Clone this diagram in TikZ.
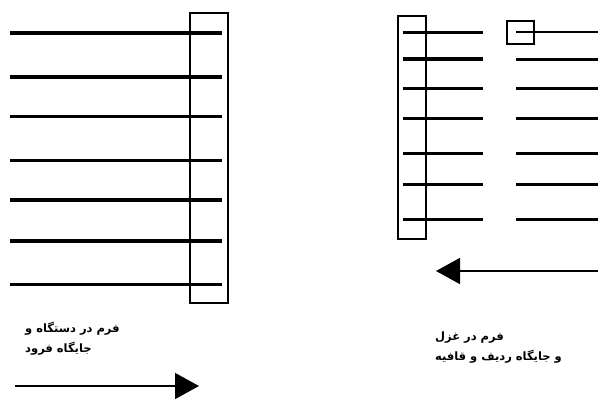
\documentclass[tikz,border=0pt]{standalone}
\usepackage{fontspec}
\newfontfamily\arabicfont[Script=Arabic]{DejaVu Sans}
\TeXXeTstate=1
\usetikzlibrary{arrows.meta}
\tikzset{
  bar/.style={line width=3pt},
  thickbar/.style={line width=4pt},
  thinbar/.style={line width=2pt},
  frame/.style={draw, line width=1.6pt},
  flow/.style={line width=1.5pt, -{Triangle[length=24pt,width=26pt]}},
  caption/.style={font=\arabicfont\bfseries\fontsize{11.5}{20}\selectfont, align=left, inner sep=0pt, anchor=north west}
}
\begin{document}
\begin{tikzpicture}[x=1pt,y=-1pt]
\useasboundingbox (0,0) rectangle (598,399);
% left panel
\foreach \yy/\st in {33/thickbar,77/thickbar,116/bar,160/bar,200/thickbar,241/thickbar,284/bar}
  \draw[\st] (10,\yy) -- (222,\yy);
\draw[frame] (190,13) rectangle (228,303);
% right panel
\draw[frame] (398,16) rectangle (426,239);
\foreach \yy/\st in {32/bar,59/thickbar,88/bar,118/bar,153/bar,184/bar,219/bar}
  \draw[\st] (403,\yy) -- (483,\yy);
\draw[thinbar] (516,32) -- (598,32);
\foreach \yy in {59,88,118,153,184,219}
  \draw[bar] (516,\yy) -- (598,\yy);
\draw[frame] (507,21) rectangle (534,44);
% arrows
\coordinate (ra) at (598,271);
\coordinate (rb) at (436,271);
\draw[flow] (ra) -- (rb);
\coordinate (la) at (15,386);
\coordinate (lb) at (199,386);
\draw[flow] (la) -- (lb);
% captions
\node[caption] (t1) at (25,322) {\beginR فرم در دستگاه و\endR\\\beginR جایگاه فرود\endR};
\node[caption] (t2) at (435,332) {\beginR فرم در غزل\endR\\\beginR و جایگاه ردیف و قافیه\endR};
\end{tikzpicture}
\end{document}
